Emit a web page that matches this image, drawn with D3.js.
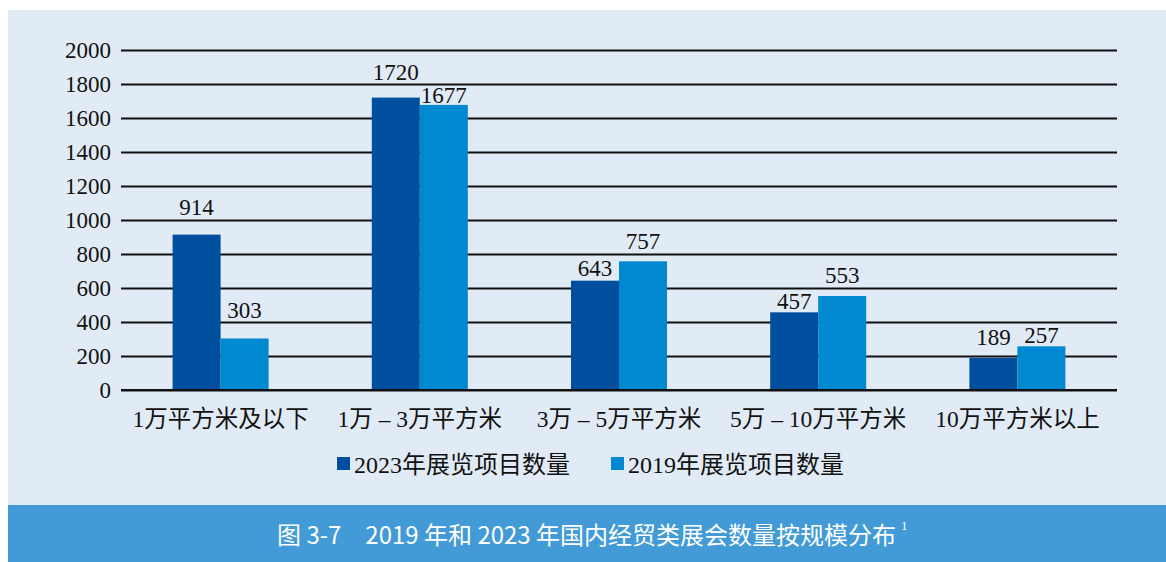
<!DOCTYPE html>
<html lang="zh">
<head>
<meta charset="UTF-8">
<title>2019年和2023年国内经贸类展会数量按规模分布</title>
<script src="https://d3js.org/d3.v7.min.js"></script>
<style>
  body { margin: 0; background: #ffffff; }
  svg { display: block; }
</style>
</head>
<body>
<script>
var categories = ["1万平方米及以下", "1万 – 3万平方米", "3万 – 5万平方米", "5万 – 10万平方米", "10万平方米以上"];
var seriesNames = ["2023年展览项目数量", "2019年展览项目数量"];
var values2023 = [914, 1720, 643, 457, 189];
var values2019 = [303, 1677, 757, 553, 257];
var yTicks = [0, 200, 400, 600, 800, 1000, 1200, 1400, 1600, 1800, 2000];
var captionText = "图 3-7\u30002019 年和 2023 年国内经贸类展会数量按规模分布";

var w = 1166, h = 562;
var colors = ["#004f9f", "#0089d0"];
var serif = "'Liberation Serif', 'Noto Sans CJK SC', serif";

// gap (px) between bar top and its value label, as placed in the original
var labelLift = [[20, 20], [18, 2], [5, 12], [3, 13], [13, 3]];

var svg = d3.select("body").append("svg")
    .attr("width", w)
    .attr("height", h);

// panel background
svg.append("rect")
    .attr("x", 8).attr("y", 10)
    .attr("width", w - 8).attr("height", h - 10)
    .attr("fill", "#e1ebf6");

// caption band
svg.append("rect")
    .attr("x", 8).attr("y", 505)
    .attr("width", w - 8).attr("height", h - 505)
    .attr("fill", "#429bd6");

var plotLeft = 121, plotRight = 1117;

var x0 = d3.scaleBand()
    .domain(categories)
    .range([plotLeft, plotRight])
    .paddingInner(0.518)
    .paddingOuter(0.259);

var x1 = d3.scaleBand()
    .domain(seriesNames)
    .range([0, x0.bandwidth()]);

var y = d3.scaleLinear()
    .domain([0, 2000])
    .range([390, 50]);

// gridlines + tick labels
var yAxis = d3.axisLeft(y)
    .tickValues(yTicks)
    .tickFormat(d3.format("d"))
    .tickSize(-(plotRight - plotLeft))
    .tickPadding(10);

var gy = svg.append("g")
    .attr("transform", "translate(" + plotLeft + ",0)")
    .call(yAxis);
gy.select(".domain").remove();
gy.selectAll(".tick line")
    .attr("stroke", "#111")
    .attr("stroke-width", 2);
gy.selectAll(".tick text")
    .attr("font-family", serif)
    .attr("font-size", "23px")
    .attr("fill", "#111")
    .attr("dy", "0.34em");

var rows = categories.map(function (c, i) {
    return { cat: c, i: i, vals: [values2023[i], values2019[i]] };
});

var groups = svg.selectAll("g.grp")
    .data(rows)
    .enter()
    .append("g")
    .attr("class", "grp")
    .attr("transform", function (d) { return "translate(" + x0(d.cat) + ",0)"; });

function cells(d) {
    return d.vals.map(function (v, j) {
        return { s: seriesNames[j], v: v, i: d.i, j: j };
    });
}

groups.selectAll("rect")
    .data(cells)
    .enter()
    .append("rect")
    .attr("x", function (d) { return x1(d.s); })
    .attr("y", function (d) { return y(d.v); })
    .attr("width", x1.bandwidth())
    .attr("height", function (d) { return y(0) - y(d.v); })
    .attr("fill", function (d) { return colors[d.j]; });

groups.selectAll("text")
    .data(cells)
    .enter()
    .append("text")
    .text(function (d) { return d.v; })
    .attr("x", function (d) { return x1(d.s) + x1.bandwidth() / 2; })
    .attr("y", function (d) { return y(d.v) - labelLift[d.i][d.j]; })
    .attr("text-anchor", "middle")
    .attr("font-family", serif)
    .attr("font-size", "23px")
    .attr("fill", "#111");

// redraw zero line on top of bars
svg.append("line")
    .attr("x1", plotLeft).attr("x2", plotRight)
    .attr("y1", y(0)).attr("y2", y(0))
    .attr("stroke", "#111")
    .attr("stroke-width", 2);

// category labels
svg.selectAll("text.cat")
    .data(categories)
    .enter()
    .append("text")
    .attr("class", "cat")
    .text(function (d) { return d; })
    .attr("x", function (d) { return x0(d) + x0.bandwidth() / 2; })
    .attr("y", 427)
    .attr("text-anchor", "middle")
    .attr("font-family", serif)
    .attr("font-size", "23.5px")
    .attr("fill", "#111");

// legend
var legendX = [337, 611];
var legend = svg.selectAll("g.legend")
    .data(seriesNames)
    .enter()
    .append("g")
    .attr("class", "legend")
    .attr("transform", function (d, i) { return "translate(" + legendX[i] + ",457)"; });

legend.append("rect")
    .attr("width", 13).attr("height", 13)
    .attr("fill", function (d, i) { return colors[i]; });

legend.append("text")
    .text(function (d) { return d; })
    .attr("x", 17)
    .attr("y", 16)
    .attr("font-family", serif)
    .attr("font-size", "24px")
    .attr("fill", "#111");

// caption
var cap = svg.append("text")
    .attr("x", 277)
    .attr("y", 544)
    .attr("font-family", "'Noto Sans CJK SC', 'Noto Sans', sans-serif")
    .attr("font-size", "24px")
    .attr("fill", "#ffffff");
cap.append("tspan").text(captionText);
cap.append("tspan")
    .text("1")
    .attr("dx", 5)
    .attr("dy", -14)
    .attr("font-family", serif)
    .attr("font-size", "13px");
</script>
</body>
</html>
